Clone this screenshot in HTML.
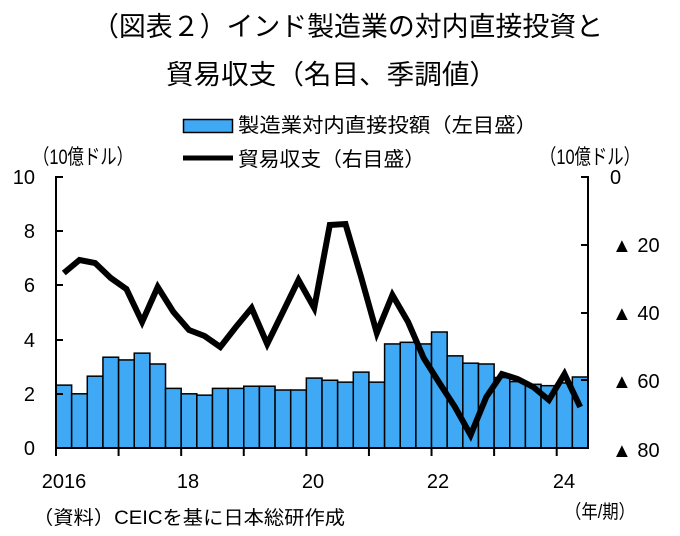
<!DOCTYPE html>
<html><head><meta charset="utf-8"><style>
html,body{margin:0;padding:0;background:#fff}
svg{display:block}
text{font-family:"Liberation Sans","Noto Sans CJK JP",sans-serif;fill:#000}
</style></head><body>
<svg width="680" height="536" viewBox="0 0 680 536" xmlns="http://www.w3.org/2000/svg">
<text x="92" y="36" font-size="27" textLength="511" lengthAdjust="spacingAndGlyphs">（図表２）インド製造業の対内直接投資と</text>
<text x="166" y="84" font-size="27" textLength="331" lengthAdjust="spacingAndGlyphs">貿易収支（名目、季調値）</text>
<rect x="183.5" y="119.5" width="49" height="13" fill="#3FA9F5" stroke="#000" stroke-width="1.5"/>
<text x="238" y="132" font-size="20" textLength="299" lengthAdjust="spacingAndGlyphs">製造業対内直接投額（左目盛）</text>
<line x1="183" y1="158" x2="233" y2="158" stroke="#000" stroke-width="5"/>
<text x="238" y="166" font-size="20" textLength="187" lengthAdjust="spacingAndGlyphs">貿易収支（右目盛）</text>
<text x="33" y="164" font-size="21" textLength="100" lengthAdjust="spacingAndGlyphs">（10億ドル）</text>
<text x="540" y="164" font-size="21" textLength="100" lengthAdjust="spacingAndGlyphs">（10億ドル）</text>
<g id="bars" fill="#3FA9F5" stroke="#000" stroke-width="1.5"></g>
<polyline id="ln" fill="none" stroke="#000" stroke-width="6" stroke-linejoin="miter"/>
<g stroke="#000" stroke-width="2" fill="none">
<line x1="56" y1="176" x2="56" y2="449"/>
<line x1="588" y1="176" x2="588" y2="449"/>
<line x1="55" y1="448" x2="589" y2="448"/>
<line x1="56" y1="177" x2="63" y2="177"/><line x1="56" y1="231" x2="63" y2="231"/><line x1="56" y1="285" x2="63" y2="285"/><line x1="56" y1="340" x2="63" y2="340"/><line x1="56" y1="394" x2="63" y2="394"/>
<line x1="581" y1="177" x2="588" y2="177"/><line x1="581" y1="245" x2="588" y2="245"/><line x1="581" y1="313" x2="588" y2="313"/><line x1="581" y1="380" x2="588" y2="380"/>
</g>
<g id="xt" stroke="#000" stroke-width="2"></g>
<g font-size="20" text-anchor="end">
<text x="35" y="184">10</text><text x="35" y="238">8</text><text x="35" y="292">6</text><text x="35" y="347">4</text><text x="35" y="401">2</text><text x="35" y="455">0</text>
</g>
<g font-size="20">
<text x="610" y="184">0</text>
<text x="612" y="252">▲ 20</text><text x="612" y="320">▲ 40</text><text x="612" y="388">▲ 60</text><text x="612" y="457">▲ 80</text>
</g>
<g font-size="20" text-anchor="middle">
<text x="64" y="488">2016</text><text x="188" y="488">18</text><text x="313" y="488">20</text><text x="438" y="488">22</text><text x="564" y="488">24</text>
</g>
<text x="565" y="518" font-size="19" textLength="70" lengthAdjust="spacingAndGlyphs">（年/期）</text>
<text x="33" y="524" font-size="19" textLength="312" lengthAdjust="spacingAndGlyphs">（資料）CEICを基に日本総研作成</text>
<script>
var v=[2.32,2.0,2.65,3.35,3.25,3.5,3.1,2.2,2.0,1.95,2.2,2.2,2.28,2.28,2.14,2.14,2.58,2.5,2.43,2.8,2.43,3.84,3.9,3.84,4.28,3.4,3.13,3.1,2.6,2.45,2.35,2.3,2.4,2.62];
var ly=[273,260,263,278,289,322,287,312,330,336,347,327,308,344,312,280,308,225,224,277,333,295,322,358,383,407,435,397,374,379,387,400,374,407];
var w=(588-56)/34,p=[],ns='http://www.w3.org/2000/svg';
var g=document.getElementById('bars');
for(var i=0;i<34;i++){var r=document.createElementNS(ns,'rect');var h=v[i]*27.1;r.setAttribute('x',56+i*w);r.setAttribute('y',448-h);r.setAttribute('width',w);r.setAttribute('height',h);g.appendChild(r);p.push((56+w/2+i*w).toFixed(1)+','+ly[i]);}
document.getElementById('ln').setAttribute('points',p.join(' '));
var xt=document.getElementById('xt');
for(var k=0;k<=8;k++){var l=document.createElementNS(ns,'line');var x=56+k*4*w;l.setAttribute('x1',x);l.setAttribute('x2',x);l.setAttribute('y1',448);l.setAttribute('y2',456);xt.appendChild(l);}
</script>
</svg>
</body></html>
